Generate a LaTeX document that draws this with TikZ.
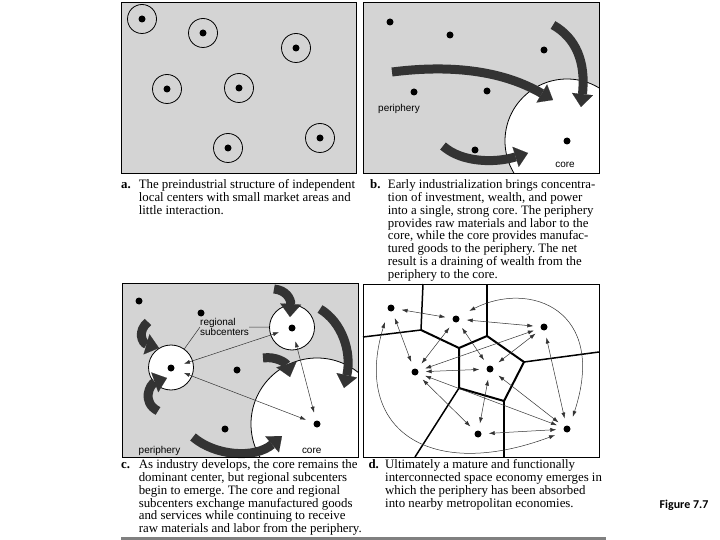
\documentclass[tikz,border=0pt]{standalone}
\usepackage{fontspec}
\setmainfont{Liberation Serif}
\setsansfont{Liberation Sans}
\newfontfamily\figfont{Carlito}
\usepackage{tikz}
\usetikzlibrary{arrows.meta}
\definecolor{panelgray}{HTML}{D4D4D4}
\definecolor{flowgray}{HTML}{333333}
\definecolor{rulegray}{HTML}{808080}
\frenchspacing

\begin{document}
\begin{tikzpicture}[x=1bp, y=-1bp,
  panel/.style={draw=black, line width=0.9bp},
  dot/.style={circle, fill=black, inner sep=0pt, minimum size=7bp},
  market/.style={circle, draw=black, line width=0.8bp, inner sep=0pt, minimum size=29bp},
  subcenter/.style={circle, draw=black, line width=0.8bp, fill=white, inner sep=0pt, minimum size=45bp},
  flow/.style={draw=flowgray, line width=9bp, -{Triangle[length=13bp, width=21bp, line width=0.1bp]}},
  link/.style={draw=black!80, line width=0.5bp, {Latex[length=6bp, width=4bp]}-{Latex[length=6bp, width=4bp]}, shorten <=7bp, shorten >=7bp},
  leader/.style={draw=black!80, line width=0.5bp},
  cell/.style={draw=black, line width=1.5bp, line join=round},
  tag/.style={font=\sffamily\fontsize{10}{10}\selectfont, inner sep=0pt, align=left},
  caption/.style={font=\fontsize{12.9}{12.8}\selectfont, inner sep=0pt, anchor=north west}
]
\useasboundingbox (0,0) rectangle (720,540);

\fill[panelgray] (121,2) rectangle (356,173);
\foreach \n/\x/\y in {1/142/19, 2/203/33, 3/296/48, 4/167/89, 5/239/88, 6/228/148, 7/320/138} {
  \node[market] (m\n) at (\x,\y) {};
  \node[dot] (a\n) at (m\n) {};
}
\draw[panel] (121,2) rectangle (356,173);

\fill[panelgray] (363,2) rectangle (599,173);
\coordinate (bc) at (567,141);
\begin{scope}
  \clip (363,2) rectangle (599,173);
  \draw[line width=0.8bp, fill=white] (bc) circle[radius=62bp];
\end{scope}
\node[dot] (bcore) at (bc) {};
\foreach \n/\x/\y in {1/390/22, 2/450/35, 3/544/50, 4/414/92, 5/487/91, 6/475/150} {
  \node[dot] (b\n) at (\x,\y) {};
}
\node[tag] (perb) at (399,109) {periphery};
\node[tag] (coreb) at (565,165) {core};
\draw[flow] (392,72) .. controls (455,64) and (505,72) .. (553,100);
\draw[flow] (553,25) .. controls (576,38) and (586,62) .. (581,107);
\draw[flow] (443,146) .. controls (462,163) and (496,163) .. (528,153);
\draw[panel] (363,2) rectangle (599,173);

\fill[panelgray] (122,283) rectangle (358,457);
\coordinate (cc) at (317,424);
\begin{scope}
  \clip (122,283) rectangle (358,457);
  \draw[line width=0.8bp, fill=white] (cc) circle[radius=66bp];
\end{scope}
\node[subcenter] (lsub) at (171,367.5) {};
\node[subcenter] (rsub) at (292,327.5) {};
\node[dot] (ccore) at (cc) {};
\node[dot] (cl) at (171,368) {};
\node[dot] (cr) at (292,328) {};
\foreach \n/\x/\y in {1/139/301, 2/201/313, 3/237/370, 4/225/429} {
  \node[dot] (c\n) at (\x,\y) {};
}
\node[tag, anchor=west] (sub) at (200,327) {regional\\subcenters};
\node[tag] (perc) at (159.5,450.5) {periphery};
\node[tag] (corec) at (311.7,450.5) {core};
\draw[leader] (sub.west) -- (lsub);
\draw[leader] (sub.east) -- (rsub);
\draw[link, shorten <=10bp, shorten >=10bp] (cl) -- (cr);
\draw[link, shorten <=10bp, shorten >=8bp] (cl) -- (ccore);
\draw[link, shorten <=10bp, shorten >=8bp] (cr) -- (ccore);
\draw[flow] (274,289) .. controls (286,290) and (291,299) .. (290,317);
\draw[flow] (320,309) .. controls (342,322) and (352,352) .. (344,388);
\draw[flow] (263,358) .. controls (276,356) and (286,363) .. (290,377);
\draw[flow] (148,322) .. controls (137,331) and (142,343) .. (159,348);
\draw[flow] (158,411) .. controls (141,402) and (150,384) .. (167,378);
\draw[flow] (193,437) .. controls (215,456) and (255,459) .. (282,436);
\draw[panel] (122,283) rectangle (358,457);

\fill[white] (363,284) rectangle (599,457);
\coordinate (v1) at (421,330);
\coordinate (v2) at (459,348);
\coordinate (v3) at (487,336);
\coordinate (v4) at (524,362);
\coordinate (v5) at (504,401);
\coordinate (v6) at (459,388);
\draw[cell, line width=2bp] (v1) -- (v2) -- (v3) -- (v4) -- (v5) -- (v6) -- (v2);
\draw[cell] (423,284) -- (v1) -- (363,337);
\draw[cell] (487,284) -- (v3);
\draw[cell] (599,352) -- (v4);
\draw[cell] (504,457) -- (v5);
\draw[cell] (415,457) -- (v6);
\foreach \n/\x/\y in {1/391/308, 2/456/319, 3/544/327, 4/415/372, 5/490/369, 6/478/434, 7/567/429} {
  \node[dot] (d\n) at (\x,\y) {};
}
\foreach \s/\t in {1/2, 2/3, 1/4, 2/4, 2/5, 4/5, 3/4, 3/5, 3/7, 4/6, 4/7, 5/6, 5/7, 6/7} {
  \draw[link] (d\s) -- (d\t);
}
\draw[link, shorten <=12bp, shorten >=10bp] (d1.south west) .. controls (352,430) and (430,482) .. (d7.south west);
\draw[link, shorten <=12bp, shorten >=10bp] (d2.north east) .. controls (530,280) and (608,310) .. (d7.north east);
\draw[panel] (363,284) rectangle (599,457);

\node[caption] (capa) at (121,179.6) {\begin{tabular}[t]{@{}p{17.6bp}@{}l@{}}
\textbf{a.} & The preindustrial structure of independent\\
 & local centers with small market areas and\\
 & little interaction.
\end{tabular}};
\node[caption] (capb) at (370,179.6) {\begin{tabular}[t]{@{}p{17.7bp}@{}l@{}}
\textbf{b.} & Early industrialization brings concentra-\\
 & tion of investment, wealth, and power\\
 & into a single, strong core. The periphery\\
 & provides raw materials and labor to the\\
 & core, while the core provides manufac-\\
 & tured goods to the periphery. The net\\
 & result is a draining of wealth from the\\
 & periphery to the core.
\end{tabular}};
\node[caption] (capc) at (121,459.6) {\begin{tabular}[t]{@{}p{17.6bp}@{}l@{}}
\textbf{c.} & As industry develops, the core remains the\\
 & dominant center, but regional subcenters\\
 & begin to emerge. The core and regional\\
 & subcenters exchange manufactured goods\\
 & and services while continuing to receive\\
 & raw materials and labor from the periphery.
\end{tabular}};
\node[caption] (capd) at (368.3,459.6) {\begin{tabular}[t]{@{}p{16.7bp}@{}l@{}}
\textbf{d.} & Ultimately a mature and functionally\\
 & interconnected space economy emerges in\\
 & which the periphery has been absorbed\\
 & into nearby metropolitan economies.
\end{tabular}};
\node[font=\figfont\bfseries\fontsize{12}{12}\selectfont, inner sep=0pt] (fig) at (684,505) {Figure 7.7};
\draw[draw=rulegray, line width=3bp] (121,538.5) -- (606,538.5);
\end{tikzpicture}
\end{document}
